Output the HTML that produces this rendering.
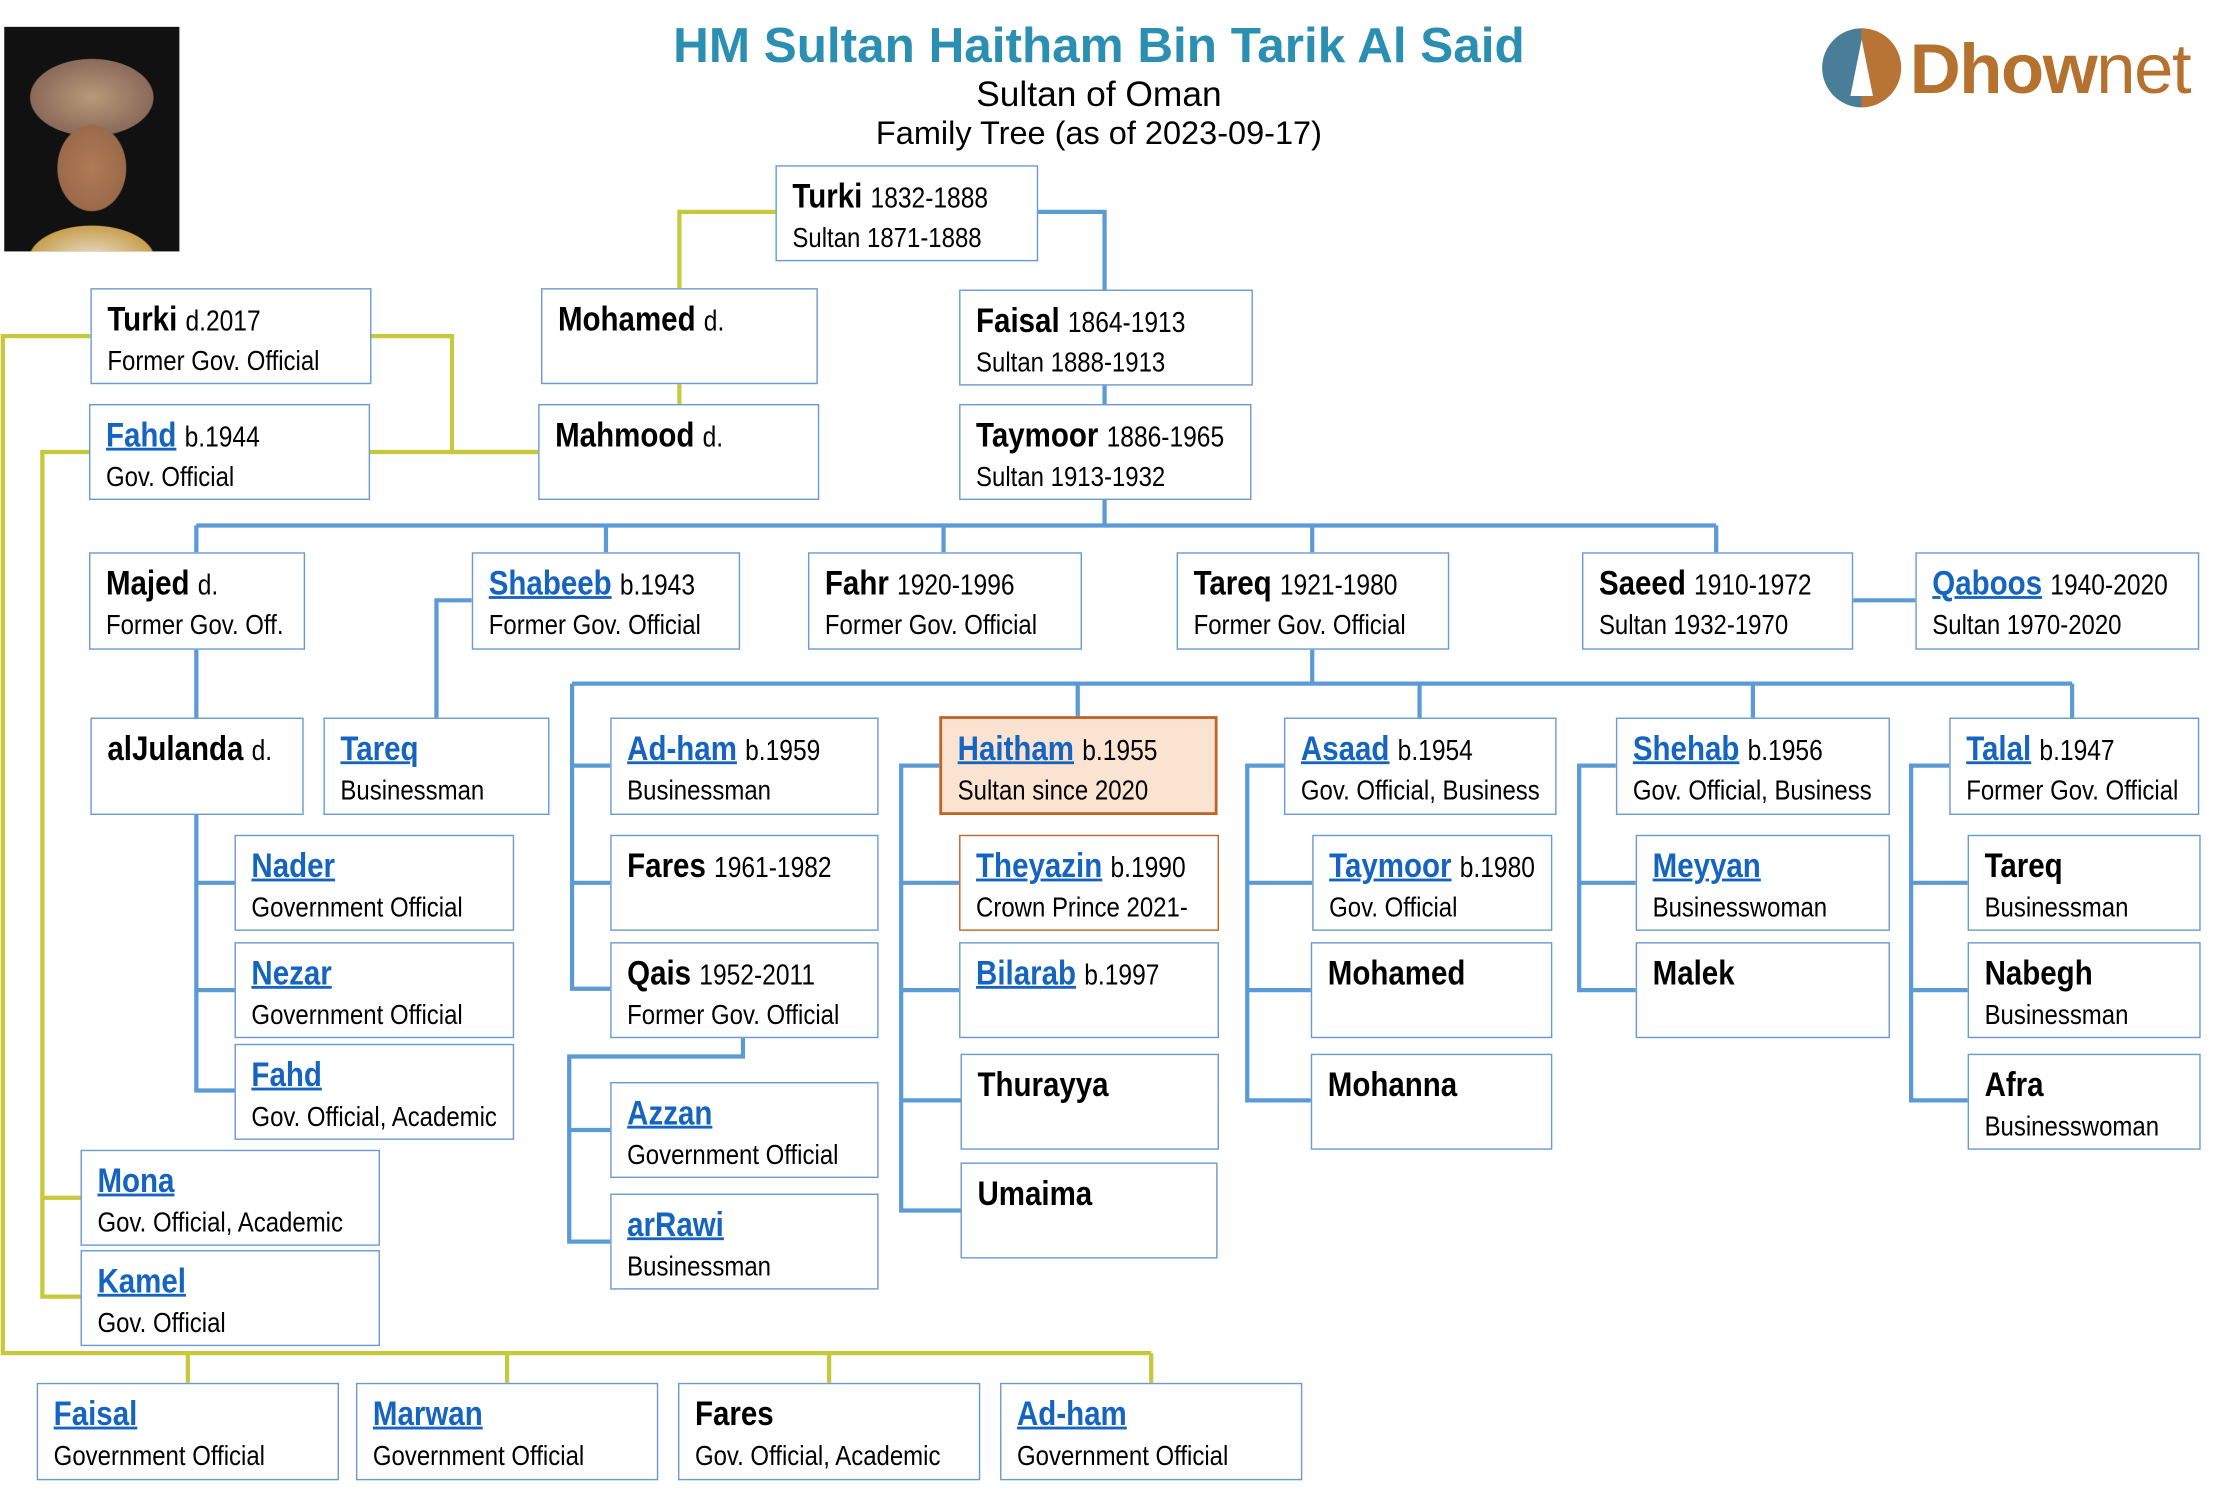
<!DOCTYPE html>
<html><head><meta charset="utf-8"><style>
html,body{margin:0;padding:0;background:#fff;width:2214px;height:1489px;overflow:hidden}
#s{position:absolute;left:0;top:0;width:1560px;height:1049px;transform:scale(1.4125);transform-origin:0 0;font-family:"Liberation Sans",sans-serif}
.b{position:absolute;box-sizing:border-box;border:1.5px solid #6a9bd0;background:#fff;color:#000}
.n{position:absolute;top:8px;left:11px;font-size:24px;font-weight:bold;white-space:nowrap;transform:scaleX(0.87);transform-origin:0 0}
.n span{font-weight:normal;font-size:20px}
.r{position:absolute;top:40px;left:11px;font-size:19.5px;white-space:nowrap;transform:scaleX(0.87);transform-origin:0 0}
a{color:#1464c0;text-decoration:underline;text-decoration-thickness:2px}
svg{position:absolute;left:0;top:0}
.t{position:absolute;left:0;width:1556px;text-align:center;font-family:"Liberation Sans",sans-serif}
</style></head><body><div id="s">
<svg width="1560" height="1049" fill="none" stroke-width="3">
<g stroke="#c8c83c">
<polyline points="549,150 481,150 481,204"/><line x1="481" y1="271" x2="481" y2="286"/>
<polyline points="262,238 320,238 320,320 381,320"/><line x1="261" y1="320" x2="381" y2="320"/>
<polyline points="64,238 2,238 2,958 815,958"/>
<line x1="133" y1="958" x2="133" y2="979"/><line x1="359" y1="958" x2="359" y2="979"/><line x1="587" y1="958" x2="587" y2="979"/><line x1="815" y1="958" x2="815" y2="979"/>
<polyline points="63,320 30,320 30,918 57,918"/><line x1="30" y1="848" x2="57" y2="848"/>
</g>
<g stroke="#5b9bd5">
<polyline points="734,150 782,150 782,205"/><line x1="782" y1="272" x2="782" y2="286"/>
<line x1="782" y1="353" x2="782" y2="372"/><line x1="139" y1="372" x2="1215" y2="372"/>
<line x1="139" y1="372" x2="139" y2="391"/><line x1="429" y1="372" x2="429" y2="391"/><line x1="668" y1="372" x2="668" y2="391"/><line x1="929" y1="372" x2="929" y2="391"/><line x1="1215" y1="372" x2="1215" y2="391"/>
<line x1="1311" y1="425" x2="1356" y2="425"/>
<line x1="139" y1="459" x2="139" y2="508"/>
<polyline points="334,425 309,425 309,508"/>
<polyline points="139,576 139,772 166,772"/><line x1="139" y1="625" x2="166" y2="625"/><line x1="139" y1="701" x2="166" y2="701"/>
<line x1="929" y1="459" x2="929" y2="484"/><line x1="405" y1="484" x2="1467" y2="484"/>
<line x1="763" y1="484" x2="763" y2="508"/><line x1="1005" y1="484" x2="1005" y2="508"/><line x1="1241" y1="484" x2="1241" y2="508"/><line x1="1467" y1="484" x2="1467" y2="508"/>
<polyline points="405,484 405,700 432,700"/><line x1="405" y1="542" x2="432" y2="542"/><line x1="405" y1="625" x2="432" y2="625"/>
<polyline points="526,734 526,748 403,748 403,879 432,879"/><line x1="403" y1="800" x2="432" y2="800"/>
<polyline points="665,542 638,542 638,857 680,857"/><line x1="638" y1="625" x2="680" y2="625"/><line x1="638" y1="701" x2="680" y2="701"/><line x1="638" y1="779" x2="680" y2="779"/>
<polyline points="909,542 883,542 883,779 929,779"/><line x1="883" y1="625" x2="929" y2="625"/><line x1="883" y1="701" x2="929" y2="701"/>
<polyline points="1144,542 1118,542 1118,701 1158,701"/><line x1="1118" y1="625" x2="1158" y2="625"/>
<polyline points="1380,542 1353,542 1353,779 1393,779"/><line x1="1353" y1="625" x2="1393" y2="625"/><line x1="1353" y1="701" x2="1393" y2="701"/>
</g>
</svg>
<div style="position:absolute;left:3px;top:19px;width:124px;height:159px;background:radial-gradient(ellipse 40px 50px at 62px 100px,#b07a55 0%,#9a6a4a 60%,transparent 62%),radial-gradient(ellipse 48px 30px at 62px 50px,#b89a78 0%,#8a6a5a 90%,transparent 92%),radial-gradient(ellipse 55px 30px at 62px 165px,#e8e0d0 0%,#c8a050 80%,transparent 82%),#111"></div>
<div class="t" style="top:13px;font-size:35px;font-weight:bold;color:#2a8fb0">HM Sultan Haitham Bin Tarik Al Said</div>
<div class="t" style="top:53px;font-size:25px">Sultan of Oman</div>
<div class="t" style="top:81px;font-size:23px">Family Tree (as of 2023-09-17)</div>
<div style="position:absolute;left:1290px;top:20px;width:56px;height:56px;border-radius:50%;background:linear-gradient(90deg,#4a7e98 50%,#b87434 50%)"><div style="position:absolute;left:20px;top:8px;width:16px;height:40px;background:#fff;clip-path:polygon(50% 0,100% 100%,0 100%)"></div></div>
<div style="position:absolute;left:1352px;top:20px;font-family:'Liberation Sans',sans-serif;font-size:50px;color:#b5722e;letter-spacing:-1px"><b>Dhow</b>net</div>

<div class="b" style="left:549px;top:117px;width:186px;height:68px"><div class="n">Turki <span>1832-1888</span></div><div class="r">Sultan 1871-1888</div></div>
<div class="b" style="left:383px;top:204px;width:196px;height:68px"><div class="n">Mohamed <span>d.</span></div></div>
<div class="b" style="left:679px;top:205px;width:208px;height:68px"><div class="n">Faisal <span>1864-1913</span></div><div class="r">Sultan 1888-1913</div></div>
<div class="b" style="left:64px;top:204px;width:199px;height:68px"><div class="n">Turki <span>d.2017</span></div><div class="r">Former Gov. Official</div></div>
<div class="b" style="left:63px;top:286px;width:199px;height:68px"><div class="n"><a>Fahd</a> <span>b.1944</span></div><div class="r">Gov. Official</div></div>
<div class="b" style="left:381px;top:286px;width:199px;height:68px"><div class="n">Mahmood <span>d.</span></div></div>
<div class="b" style="left:679px;top:286px;width:207px;height:68px"><div class="n">Taymoor <span>1886-1965</span></div><div class="r">Sultan 1913-1932</div></div>

<div class="b" style="left:63px;top:391px;width:153px;height:69px"><div class="n">Majed <span>d.</span></div><div class="r">Former Gov. Off.</div></div>
<div class="b" style="left:334px;top:391px;width:190px;height:69px"><div class="n"><a>Shabeeb</a> <span>b.1943</span></div><div class="r">Former Gov. Official</div></div>
<div class="b" style="left:572px;top:391px;width:194px;height:69px"><div class="n">Fahr <span>1920-1996</span></div><div class="r">Former Gov. Official</div></div>
<div class="b" style="left:833px;top:391px;width:193px;height:69px"><div class="n">Tareq <span>1921-1980</span></div><div class="r">Former Gov. Official</div></div>
<div class="b" style="left:1120px;top:391px;width:192px;height:69px"><div class="n">Saeed <span>1910-1972</span></div><div class="r">Sultan 1932-1970</div></div>
<div class="b" style="left:1356px;top:391px;width:201px;height:69px"><div class="n"><a>Qaboos</a> <span>1940-2020</span></div><div class="r">Sultan 1970-2020</div></div>

<div class="b" style="left:64px;top:508px;width:151px;height:69px"><div class="n">alJulanda <span>d.</span></div></div>
<div class="b" style="left:229px;top:508px;width:160px;height:69px"><div class="n"><a>Tareq</a></div><div class="r">Businessman</div></div>
<div class="b" style="left:432px;top:508px;width:190px;height:69px"><div class="n"><a>Ad-ham</a> <span>b.1959</span></div><div class="r">Businessman</div></div>
<div class="b" style="left:665px;top:507px;width:197px;height:70px;background:#fbe3d2;border:2.5px solid #c0642a"><div class="n"><a>Haitham</a> <span>b.1955</span></div><div class="r">Sultan since 2020</div></div>
<div class="b" style="left:909px;top:508px;width:193px;height:69px"><div class="n"><a>Asaad</a> <span>b.1954</span></div><div class="r">Gov. Official, Business</div></div>
<div class="b" style="left:1144px;top:508px;width:194px;height:69px"><div class="n"><a>Shehab</a> <span>b.1956</span></div><div class="r">Gov. Official, Business</div></div>
<div class="b" style="left:1380px;top:508px;width:177px;height:69px"><div class="n"><a>Talal</a> <span>b.1947</span></div><div class="r">Former Gov. Official</div></div>

<div class="b" style="left:166px;top:591px;width:198px;height:68px"><div class="n"><a>Nader</a></div><div class="r">Government Official</div></div>
<div class="b" style="left:432px;top:591px;width:190px;height:68px"><div class="n">Fares <span>1961-1982</span></div></div>
<div class="b" style="left:679px;top:591px;width:184px;height:68px;border-color:#c0642a"><div class="n"><a>Theyazin</a> <span>b.1990</span></div><div class="r">Crown Prince 2021-</div></div>
<div class="b" style="left:929px;top:591px;width:170px;height:68px"><div class="n"><a>Taymoor</a> <span>b.1980</span></div><div class="r">Gov. Official</div></div>
<div class="b" style="left:1158px;top:591px;width:180px;height:68px"><div class="n"><a>Meyyan</a></div><div class="r">Businesswoman</div></div>
<div class="b" style="left:1393px;top:591px;width:165px;height:68px"><div class="n">Tareq</div><div class="r">Businessman</div></div>

<div class="b" style="left:166px;top:667px;width:198px;height:68px"><div class="n"><a>Nezar</a></div><div class="r">Government Official</div></div>
<div class="b" style="left:432px;top:667px;width:190px;height:68px"><div class="n">Qais <span>1952-2011</span></div><div class="r">Former Gov. Official</div></div>
<div class="b" style="left:679px;top:667px;width:184px;height:68px"><div class="n"><a>Bilarab</a> <span>b.1997</span></div></div>
<div class="b" style="left:928px;top:667px;width:171px;height:68px"><div class="n">Mohamed</div></div>
<div class="b" style="left:1158px;top:667px;width:180px;height:68px"><div class="n">Malek</div></div>
<div class="b" style="left:1393px;top:667px;width:165px;height:68px"><div class="n">Nabegh</div><div class="r">Businessman</div></div>

<div class="b" style="left:166px;top:739px;width:198px;height:68px"><div class="n"><a>Fahd</a></div><div class="r">Gov. Official, Academic</div></div>
<div class="b" style="left:680px;top:746px;width:183px;height:68px"><div class="n">Thurayya</div></div>
<div class="b" style="left:928px;top:746px;width:171px;height:68px"><div class="n">Mohanna</div></div>
<div class="b" style="left:1393px;top:746px;width:165px;height:68px"><div class="n">Afra</div><div class="r">Businesswoman</div></div>
<div class="b" style="left:432px;top:766px;width:190px;height:68px"><div class="n"><a>Azzan</a></div><div class="r">Government Official</div></div>
<div class="b" style="left:432px;top:845px;width:190px;height:68px"><div class="n"><a>arRawi</a></div><div class="r">Businessman</div></div>
<div class="b" style="left:680px;top:823px;width:182px;height:68px"><div class="n">Umaima</div></div>
<div class="b" style="left:57px;top:814px;width:212px;height:68px"><div class="n"><a>Mona</a></div><div class="r">Gov. Official, Academic</div></div>
<div class="b" style="left:57px;top:885px;width:212px;height:68px"><div class="n"><a>Kamel</a></div><div class="r">Gov. Official</div></div>

<div class="b" style="left:26px;top:979px;width:214px;height:69px"><div class="n"><a>Faisal</a></div><div class="r">Government Official</div></div>
<div class="b" style="left:252px;top:979px;width:214px;height:69px"><div class="n"><a>Marwan</a></div><div class="r">Government Official</div></div>
<div class="b" style="left:480px;top:979px;width:214px;height:69px"><div class="n">Fares</div><div class="r">Gov. Official, Academic</div></div>
<div class="b" style="left:708px;top:979px;width:214px;height:69px"><div class="n"><a>Ad-ham</a></div><div class="r">Government Official</div></div>
</div></body></html>
